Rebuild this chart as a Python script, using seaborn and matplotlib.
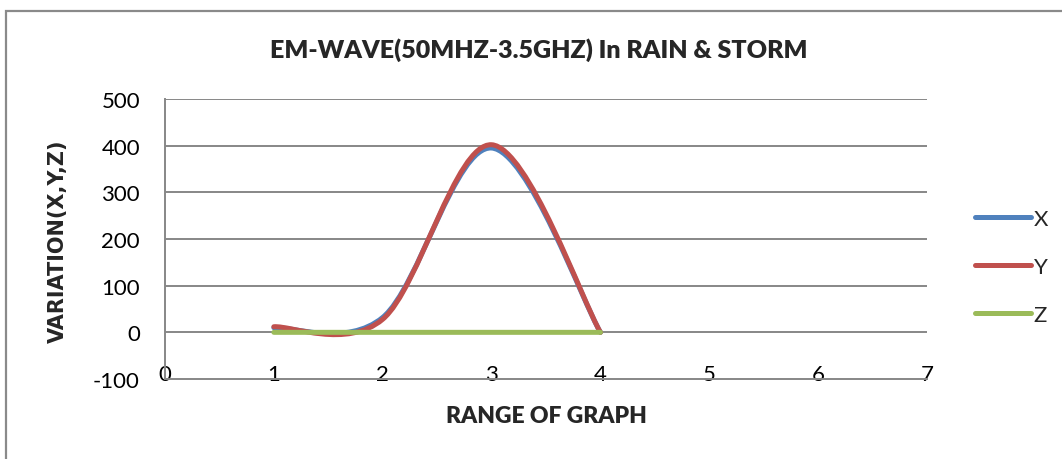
import numpy as np
import matplotlib
matplotlib.use("Agg")
import matplotlib.pyplot as plt
from matplotlib.path import Path
from matplotlib.patches import PathPatch, Rectangle
from matplotlib.lines import Line2D
import seaborn as sns

# Series values sampled at the four range points
range_pts = [1, 2, 3, 4]
x_vals = [10, 32, 395, 0]
y_vals = [12, 28, 402, 0]
z_vals = [0, 0, 0, 0]
series_names = ["X", "Y", "Z"]
series_colors = ["#4F81BD", "#C0504D", "#9BBB59"]

x_ticks = [0, 1, 2, 3, 4, 5, 6, 7]
y_ticks = [-100, 0, 100, 200, 300, 400, 500]

title_text = "EM-WAVE(50MHZ-3.5GHZ) In RAIN & STORM"
xlabel_text = "RANGE OF GRAPH"
ylabel_text = "VARIATION(X,Y,Z)"

sns.set_theme(style="white")
plt.rcParams["font.family"] = ["Lato", "DejaVu Sans"]

GRID = "#878787"


def smooth_path(xs, ys):
    """Cubic Bezier path through the points (tangent = neighbour chord / 6)."""
    pts = np.column_stack([xs, ys]).astype(float)
    n = len(pts)
    verts = [pts[0]]
    codes = [Path.MOVETO]
    for i in range(n - 1):
        prev = pts[i - 1] if i > 0 else pts[i]
        nxt = pts[i + 2] if i + 2 < n else pts[i + 1]
        c1 = pts[i] + (pts[i + 1] - prev) / 6.0
        c2 = pts[i + 1] - (nxt - pts[i]) / 6.0
        verts += [c1, c2, pts[i + 1]]
        codes += [Path.CURVE4] * 3
    return Path(np.array(verts), codes)


fig = plt.figure(figsize=(10.62, 4.6), dpi=100)
ax = fig.add_axes([165 / 1062, 1 - 380 / 460, (927 - 165) / 1062, 280 / 460])

# outer chart frame
fig.patches.append(Rectangle((6 / 1062, -0.05), 1.1, 1 - 12 / 460 + 0.05,
                             transform=fig.transFigure, fill=False,
                             edgecolor="#8a8a8a", linewidth=1.6))

ax.set_xlim(0, 7)
ax.set_ylim(-100, 500)
ax.set_xticks(x_ticks)
ax.set_yticks(y_ticks)
ax.set_xticklabels([str(t) for t in x_ticks])
ax.set_yticklabels([str(t) for t in y_ticks])

for yv in y_ticks[1:]:
    ax.axhline(yv, color=GRID, linewidth=1.4, zorder=1)

for side in ["top", "right"]:
    ax.spines[side].set_visible(False)
for side in ["left", "bottom"]:
    ax.spines[side].set_color(GRID)
    ax.spines[side].set_linewidth(1.4)

ax.tick_params(axis="both", length=0, labelsize=16, colors="black")
ax.tick_params(axis="y", pad=18)
ax.tick_params(axis="x", pad=-11)

for vals, col, z in zip([x_vals, y_vals, z_vals], series_colors, [3, 4, 5]):
    ax.add_patch(PathPatch(smooth_path(range_pts, vals), facecolor="none",
                           edgecolor=col, linewidth=3.6, capstyle="round",
                           joinstyle="round", zorder=z))

fig.text(539 / 1062, 1 - 50 / 460, title_text, ha="center", va="center",
         fontsize=18, fontweight="heavy")
fig.text(546 / 1062, 1 - 417 / 460, xlabel_text, ha="center", va="center",
         fontsize=16.5, fontweight="heavy")
fig.text(58 / 1062, 1 - 241 / 460, ylabel_text, ha="center", va="center",
         rotation=90, fontsize=15, fontweight="bold",
         family=["DejaVu Sans"])

handles = [Line2D([0], [0], color=c, linewidth=3.6, solid_capstyle="round")
           for c in series_colors]
fig.legend(handles, series_names, loc="center left",
           bbox_to_anchor=(955 / 1062, 1 - 268 / 460), frameon=False,
           fontsize=16, handlelength=2.5, handletextpad=0.15, labelspacing=1.25)

fig.savefig("out.png", dpi=100)
